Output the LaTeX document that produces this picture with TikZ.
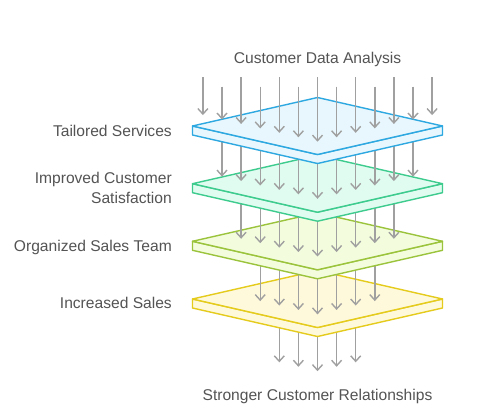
\documentclass[tikz,border=0pt]{standalone}
\usepackage{fontspec}
\setmainfont{Liberation Sans}
\usetikzlibrary{arrows.meta}
\definecolor{txtc}{HTML}{545454}
\definecolor{arrc}{HTML}{A0A0A0}
\definecolor{bS}{HTML}{2EA8E0}\definecolor{bF}{HTML}{E8F7FD}
\definecolor{gS}{HTML}{3DCB8E}\definecolor{gF}{HTML}{E0FBF0}
\definecolor{ygS}{HTML}{9BC43C}\definecolor{ygF}{HTML}{F3FDDD}
\definecolor{yS}{HTML}{E4CB1C}\definecolor{yF}{HTML}{FFF9DB}
\newcommand\mkplate[3]{%
  \begin{scope}[shift={(0,#1)}]
    \filldraw[draw=#2,fill=#3,line width=1.4pt,line join=round]
      (192.5,0) -- (192.5,9) -- (317.5,37.5) -- (442.5,9) -- (442.5,0) -- (317.5,28.5) -- cycle;
    \filldraw[draw=#2,fill=#3,line width=1.4pt,line join=round]
      (192.5,0) -- (317.5,-28.5) -- (442.5,0) -- (317.5,28.5) -- cycle;
  \end{scope}}
\newcommand\mkarrows[3]{% #1 kmax, #2 start y, #3 tip center y
  \foreach \k in {-#1,...,#1}{%
    \pgfmathsetmacro\xx{317.5+19.1*\k}%
    \pgfmathsetmacro\ty{#3-0.232*abs(19.1*\k)}%
    \draw[arr] (\xx,#2) -- (\xx,\ty);}}
\begin{document}
\begin{tikzpicture}[x=1pt,y=-1pt,
  arr/.style={draw=arrc,line width=1.4pt,-{Straight Barb[length=5.5pt,width=10pt,line width=1.4pt]}},
  lbl/.style={text=txtc,font=\fontsize{15.6}{18}\selectfont,inner sep=0pt}]
\useasboundingbox (0,0) rectangle (503,415);
\fill[white] (0,0) rectangle (503,415);
% below bottom plate
\mkarrows{2}{299}{371.2}
\mkplate{299}{yS}{yF}
\mkarrows{3}{241.3}{314.4}
\mkplate{241.3}{ygS}{ygF}
\mkarrows{4}{183.7}{256.5}
\mkplate{183.7}{gS}{gF}
\mkarrows{5}{126}{198.8}
\mkplate{126}{bS}{bF}
\foreach \k in {-6,...,6}{%
  \pgfmathsetmacro\xx{317.5+19.1*\k}%
  \pgfmathsetmacro\st{77.3+9.4*mod(abs(\k),2)}%
  \pgfmathsetmacro\ty{141.7-0.232*abs(19.1*\k)}%
  \draw[arr] (\xx,\st) -- (\xx,\ty);}
% labels
\node[lbl,anchor=base] (top) at (317.5,63.4) {Customer Data Analysis};
\node[lbl,anchor=base] (bot) at (317.5,400) {Stronger Customer Relationships};
\node[lbl,anchor=base east] (l1) at (172,136) {Tailored Services};
\node[lbl,anchor=base east] (l2a) at (172,183.6) {Improved Customer};
\node[lbl,anchor=base east] (l2b) at (172,203.6) {Satisfaction};
\node[lbl,anchor=base east] (l3) at (172,251.6) {Organized Sales Team};
\node[lbl,anchor=base east] (l4) at (172,308.6) {Increased Sales};
\end{tikzpicture}
\end{document}
